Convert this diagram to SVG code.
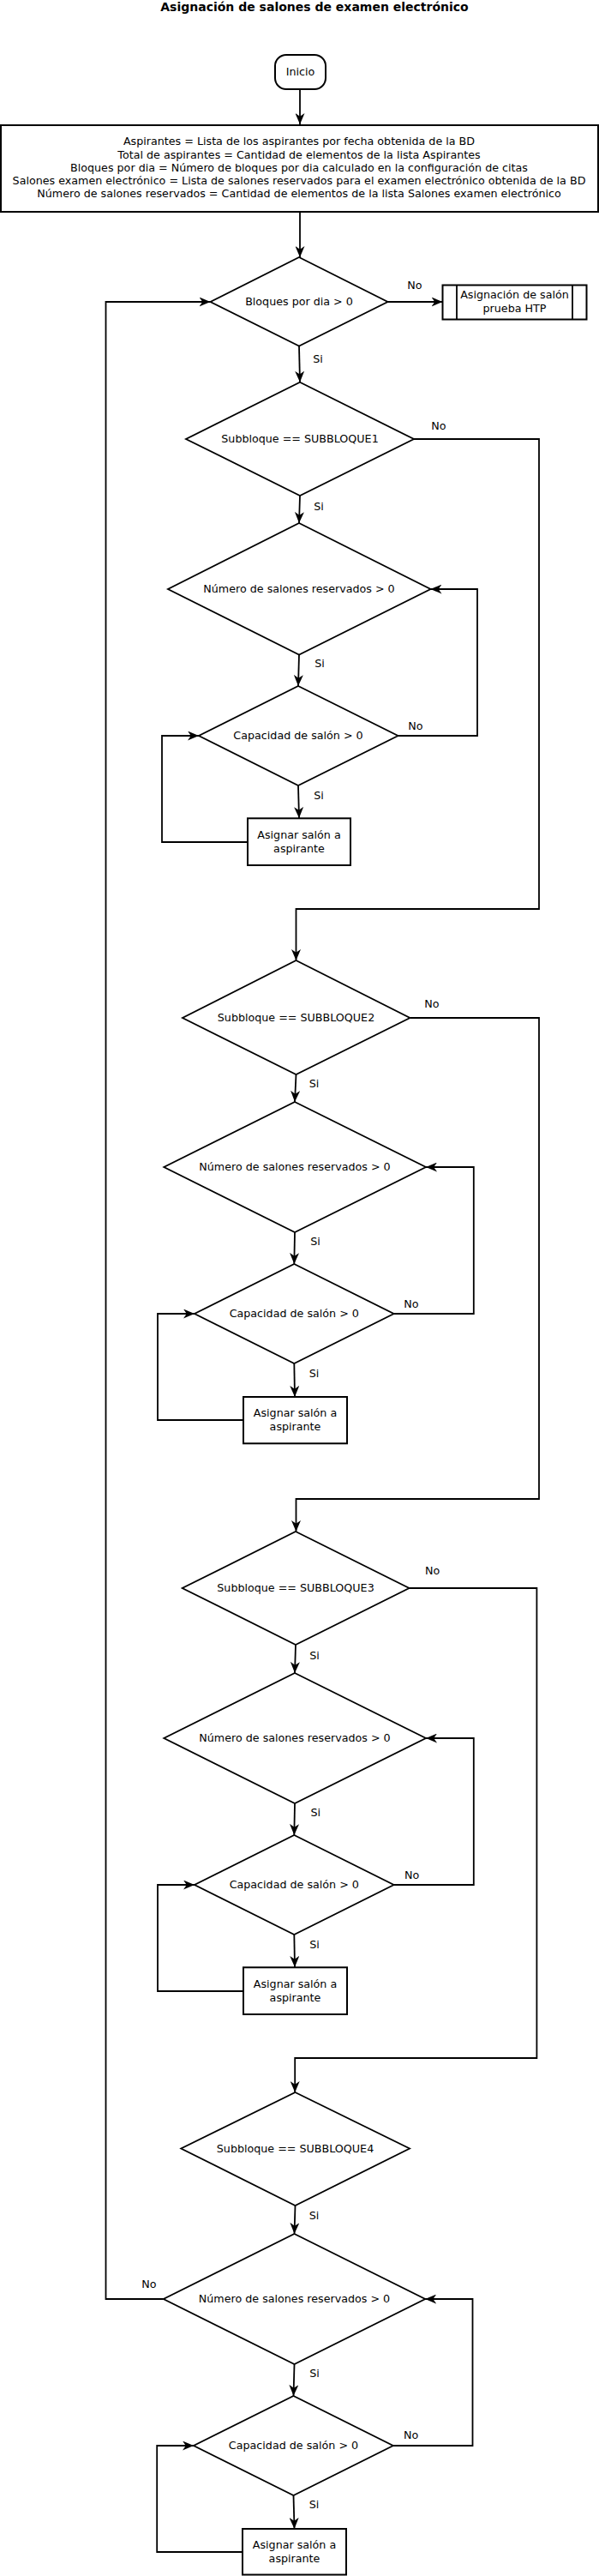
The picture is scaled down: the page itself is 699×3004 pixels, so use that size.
<svg xmlns="http://www.w3.org/2000/svg" width="699" height="3004" viewBox="0 0 699 3004">
<style>
  text { font-family: "DejaVu Sans", "Liberation Sans", sans-serif; font-size: 12.7px; fill: #000; text-anchor: middle; }
  .title { font-weight: bold; font-size: 14px; }
  .shape { fill: #fff; stroke: #000; stroke-width: 1.8; }
  .box { fill: #fff; stroke: #000; stroke-width: 2; }
  .conn { fill: none; stroke: #000; stroke-width: 1.8; }
</style>
<defs>
  <marker id="arr" viewBox="0 0 13 11" refX="13" refY="5.5" markerWidth="13" markerHeight="11" markerUnits="userSpaceOnUse" orient="auto">
    <path d="M0,0 L13,5.5 L0,11 L3.8,5.5 Z" fill="#000"/>
  </marker>
</defs>
<rect x="0" y="0" width="699" height="3004" fill="#fff"/>
<text class="title" x="367" y="13">Asignación de salones de examen electrónico</text>

<g id="connectors">
  <path class="conn" d="M350,104 L350,145" marker-end="url(#arr)"/>
  <path class="conn" d="M350,247 L350,300" marker-end="url(#arr)"/>
  <path class="conn" d="M452.5,352 L516.5,352" marker-end="url(#arr)"/>
  <path class="conn" d="M190.8,2681 L123.5,2681 L123.5,352 L245.5,352" marker-end="url(#arr)"/>
  <path class="conn" d="M349,403.5 L350,445.7" marker-end="url(#arr)"/>
  <path class="conn" d="M483,512 L629,512 L629,1060 L345.5,1060 L345.5,1120" marker-end="url(#arr)"/>
  <path class="conn" d="M350,578 L349,610" marker-end="url(#arr)"/>
  <path class="conn" d="M349,763.5 L348,800" marker-end="url(#arr)"/>
  <path class="conn" d="M464.5,858 L557,858 L557,687 L502.5,687" marker-end="url(#arr)"/>
  <path class="conn" d="M348,916 L349,954" marker-end="url(#arr)"/>
  <path class="conn" d="M289,982 L189,982 L189,858 L232,858" marker-end="url(#arr)"/>

  <path class="conn" d="M478.4,1187 L629,1187 L629,1748 L345.5,1748 L345.5,1786" marker-end="url(#arr)"/>
  <path class="conn" d="M345.5,1253 L344,1285" marker-end="url(#arr)"/>
  <path class="conn" d="M344,1437 L343.3,1474" marker-end="url(#arr)"/>
  <path class="conn" d="M459.6,1532 L552.8,1532 L552.8,1361 L497,1361" marker-end="url(#arr)"/>
  <path class="conn" d="M343.3,1590 L344,1629" marker-end="url(#arr)"/>
  <path class="conn" d="M284,1656 L184,1656 L184,1532 L227,1532" marker-end="url(#arr)"/>

  <path class="conn" d="M477.5,1852 L626.4,1852 L626.4,2400 L344.2,2400 L344.2,2440" marker-end="url(#arr)"/>
  <path class="conn" d="M345,1918 L344,1951" marker-end="url(#arr)"/>
  <path class="conn" d="M344,2103 L343.3,2140" marker-end="url(#arr)"/>
  <path class="conn" d="M459.6,2198 L552.8,2198 L552.8,2027 L497,2027" marker-end="url(#arr)"/>
  <path class="conn" d="M343.3,2256 L344,2294" marker-end="url(#arr)"/>
  <path class="conn" d="M284,2322 L184,2322 L184,2198 L227,2198" marker-end="url(#arr)"/>

  <path class="conn" d="M344.5,2572 L343.5,2605" marker-end="url(#arr)"/>
  <path class="conn" d="M343.5,2757 L342.5,2794" marker-end="url(#arr)"/>
  <path class="conn" d="M458.8,2852 L551.5,2852 L551.5,2681 L496.2,2681" marker-end="url(#arr)"/>
  <path class="conn" d="M342.5,2910 L343.5,2949" marker-end="url(#arr)"/>
  <path class="conn" d="M283,2976 L183.2,2976 L183.2,2852 L226,2852" marker-end="url(#arr)"/>

  <text x="484" y="337">No</text>
  <text x="371" y="423">Si</text>
  <text x="512" y="501">No</text>
  <text x="372" y="595">Si</text>
  <text x="373" y="778">Si</text>
  <text x="485" y="851">No</text>
  <text x="372" y="932">Si</text>
  <text x="504" y="1175">No</text>
  <text x="366.5" y="1268">Si</text>
  <text x="368" y="1452">Si</text>
  <text x="480" y="1525">No</text>
  <text x="366.5" y="1606">Si</text>
  <text x="504.7" y="1836">No</text>
  <text x="367" y="1935">Si</text>
  <text x="368.3" y="2118">Si</text>
  <text x="480.6" y="2191">No</text>
  <text x="367" y="2272">Si</text>
  <text x="366.5" y="2588">Si</text>
  <text x="174" y="2668">No</text>
  <text x="367" y="2772">Si</text>
  <text x="479.7" y="2844">No</text>
  <text x="366.5" y="2925">Si</text>
</g>

<g id="inicio">
  <rect class="box" x="321" y="64" width="59" height="40" rx="13" ry="13"/>
  <text x="350.5" y="88">Inicio</text>
</g>

<g id="init-vars">
  <rect class="box" x="1" y="146" width="697" height="101"/>
  <text x="349" y="169.3">Aspirantes = Lista de los aspirantes por fecha obtenida de la BD</text>
  <text x="349" y="184.5">Total de aspirantes = Cantidad de elementos de la lista Aspirantes</text>
  <text x="349" y="199.7">Bloques por dia = Número de bloques por dia calculado en la configuración de citas</text>
  <text x="349" y="215">Salones examen electrónico = Lista de salones reservados para el examen electrónico obtenida de la BD</text>
  <text x="349" y="230.2">Número de salones reservados = Cantidad de elementos de la lista Salones examen electrónico</text>
</g>

<g id="d-bloques">
  <polygon class="shape" points="349,300 452.5,352 349,403.5 245.5,352"/>
  <text x="349" y="356">Bloques por dia &gt; 0</text>
</g>

<g id="htp">
  <rect class="box" x="516.5" y="332.5" width="168" height="40"/>
  <line class="shape" x1="533" y1="332.5" x2="533" y2="372.5"/>
  <line class="shape" x1="668" y1="332.5" x2="668" y2="372.5"/>
  <text x="600.5" y="348">Asignación de salón</text>
  <text x="600.5" y="364">prueba HTP</text>
</g>

<g id="d-sub1">
  <polygon class="shape" points="350,445.7 483,512 350,578 217,512"/>
  <text x="350" y="516">Subbloque == SUBBLOQUE1</text>
</g>
<g id="d-num1">
  <polygon class="shape" points="349,610 502.5,687 349,763.5 196,687"/>
  <text x="349" y="691">Número de salones reservados &gt; 0</text>
</g>
<g id="d-cap1">
  <polygon class="shape" points="348,800 464.5,858 348,916 232,858"/>
  <text x="348" y="862">Capacidad de salón &gt; 0</text>
</g>
<g id="asignar1">
  <rect class="box" x="289" y="954.3" width="120" height="54.7"/>
  <text x="349" y="977.5">Asignar salón a</text>
  <text x="349" y="993.5">aspirante</text>
</g>

<g id="d-sub2">
  <polygon class="shape" points="345.5,1120 478.4,1187 345.5,1253 213,1187"/>
  <text x="345.5" y="1191">Subbloque == SUBBLOQUE2</text>
</g>
<g id="d-num2">
  <polygon class="shape" points="344,1285 497,1361 344,1437 191.3,1361"/>
  <text x="344" y="1365">Número de salones reservados &gt; 0</text>
</g>
<g id="d-cap2">
  <polygon class="shape" points="343.3,1474 459.6,1532 343.3,1590 227,1532"/>
  <text x="343.3" y="1536">Capacidad de salón &gt; 0</text>
</g>
<g id="asignar2">
  <rect class="box" x="284" y="1629" width="121" height="54.3"/>
  <text x="344.5" y="1652">Asignar salón a</text>
  <text x="344.5" y="1668">aspirante</text>
</g>

<g id="d-sub3">
  <polygon class="shape" points="345,1786 477.5,1852 345,1918 212.7,1852"/>
  <text x="345" y="1856">Subbloque == SUBBLOQUE3</text>
</g>
<g id="d-num3">
  <polygon class="shape" points="344,1951 497,2027 344,2103 191.3,2027"/>
  <text x="344" y="2031">Número de salones reservados &gt; 0</text>
</g>
<g id="d-cap3">
  <polygon class="shape" points="343.3,2140 459.6,2198 343.3,2256 227,2198"/>
  <text x="343.3" y="2202">Capacidad de salón &gt; 0</text>
</g>
<g id="asignar3">
  <rect class="box" x="284" y="2294.3" width="121" height="54.7"/>
  <text x="344.5" y="2317.5">Asignar salón a</text>
  <text x="344.5" y="2333.5">aspirante</text>
</g>

<g id="d-sub4">
  <polygon class="shape" points="344.5,2440 478,2505.5 344.5,2572 211.3,2505.5"/>
  <text x="344.5" y="2509.5">Subbloque == SUBBLOQUE4</text>
</g>
<g id="d-num4">
  <polygon class="shape" points="343.5,2605 496.2,2681 343.5,2757 190.8,2681"/>
  <text x="343.5" y="2685">Número de salones reservados &gt; 0</text>
</g>
<g id="d-cap4">
  <polygon class="shape" points="342.5,2794 458.8,2852 342.5,2910 226,2852"/>
  <text x="342.5" y="2856">Capacidad de salón &gt; 0</text>
</g>
<g id="asignar4">
  <rect class="box" x="283" y="2949" width="121" height="53.5"/>
  <text x="343.5" y="2971.5">Asignar salón a</text>
  <text x="343.5" y="2988">aspirante</text>
</g>
</svg>
